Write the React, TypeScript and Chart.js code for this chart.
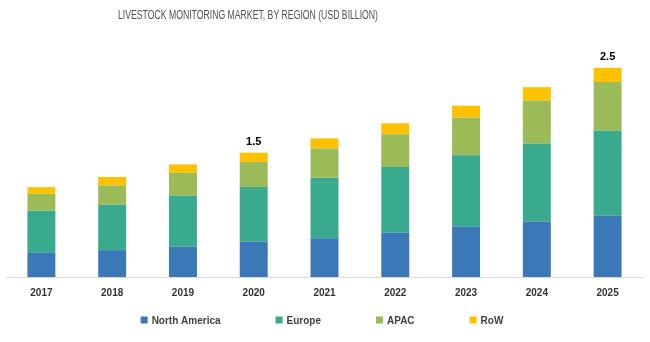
import React, { useEffect, useRef } from "react";
import { Chart, registerables } from "chart.js";

Chart.register(...registerables);

const chartTitle = "LIVESTOCK MONITORING MARKET, BY REGION (USD BILLION)";
const years = ["2017", "2018", "2019", "2020", "2021", "2022", "2023", "2024", "2025"];
const northAmerica = [0.29, 0.32, 0.36, 0.42, 0.46, 0.53, 0.6, 0.66, 0.73];
const europe = [0.5, 0.54, 0.61, 0.65, 0.72, 0.78, 0.85, 0.93, 1.01];
const apac = [0.2, 0.23, 0.27, 0.3, 0.35, 0.39, 0.45, 0.51, 0.58];
const row = [0.08, 0.1, 0.1, 0.11, 0.12, 0.13, 0.14, 0.16, 0.17];
const totalLabels = ["", "", "", "1.5", "", "", "", "", "2.5"];

const seriesNames = ["North America", "Europe", "APAC", "RoW"];
const seriesColors = ["#3B78B7", "#3AAA8F", "#9BBB59", "#FFC000"];

const titlePlugin = {
  id: "customTitle",
  afterDraw(chart: any) {
    const ctx = chart.ctx;
    ctx.save();
    ctx.font = '12px "Liberation Sans", Arial, sans-serif';
    ctx.fillStyle = "#505050";
    ctx.textAlign = "center";
    ctx.textBaseline = "middle";
    const w = ctx.measureText(chartTitle).width;
    const sx = Math.min(1, 260 / w);
    ctx.translate(248, 16);
    ctx.scale(sx, 1);
    ctx.fillText(chartTitle, 0, 0);
    ctx.restore();
  },
};

const totalsPlugin = {
  id: "totals",
  afterDatasetsDraw(chart: any) {
    const ctx = chart.ctx;
    const last = chart.getDatasetMeta(chart.data.datasets.length - 1);
    ctx.save();
    ctx.font = 'bold 11px "Liberation Sans", Arial, sans-serif';
    ctx.fillStyle = "#000000";
    ctx.textAlign = "center";
    ctx.textBaseline = "bottom";
    totalLabels.forEach((t, i) => {
      if (!t) return;
      const el = last.data[i];
      ctx.fillText(t, el.x, el.y - 5);
    });
    ctx.restore();
  },
};

const legendPlugin = {
  id: "customLegend",
  afterDraw(chart: any) {
    const ctx = chart.ctx;
    ctx.save();
    ctx.font = 'bold 10px "Liberation Sans", Arial, sans-serif';
    ctx.textBaseline = "middle";
    ctx.textAlign = "left";
    const box = 7;
    const gapText = 4;
    const gapItems = 55;
    const widths = chart.data.datasets.map((d: any) => box + gapText + ctx.measureText(d.label).width);
    const total = widths.reduce((a: number, b: number) => a + b, 0) + gapItems * (widths.length - 1);
    let x = 322 - total / 2;
    const y = 321;
    chart.data.datasets.forEach((d: any, i: number) => {
      ctx.fillStyle = d.backgroundColor;
      ctx.fillRect(x, y - box / 2 - 1, box, box);
      ctx.fillStyle = "#404040";
      ctx.fillText(d.label, x + box + gapText, y);
      x += widths[i] + gapItems;
    });
    ctx.restore();
  },
};

export default function App() {
  const ref = useRef<HTMLCanvasElement | null>(null);
  useEffect(() => {
    if (!ref.current) return;
    const values = [northAmerica, europe, apac, row];
    const chart = new Chart(ref.current, {
      type: "bar",
      data: {
        labels: years,
        datasets: seriesNames.map((name, i) => ({
          label: name,
          data: values[i],
          backgroundColor: seriesColors[i],
          borderWidth: 0,
          barPercentage: 0.5,
          categoryPercentage: 0.79,
        })),
      },
      options: {
        animation: false,
        responsive: true,
        maintainAspectRatio: false,
        layout: { padding: { top: 25, left: 6, right: 7, bottom: 33 } },
        plugins: {
          legend: { display: false },
          title: { display: false },
          tooltip: { enabled: false },
        },
        scales: {
          x: {
            stacked: true,
            grid: { display: false, drawTicks: false },
            border: { display: true, color: "#D9D9D9", width: 1 },
            ticks: {
              padding: 10,
              color: "#333333",
              font: { family: '"Liberation Sans", Arial, sans-serif', size: 10, weight: "bold" },
            },
          },
          y: {
            stacked: true,
            display: false,
            min: 0,
            max: 3,
          },
        },
      },
      plugins: [titlePlugin, totalsPlugin, legendPlugin],
    });
    return () => chart.destroy();
  }, []);
  return (
    <div style={{ position: "absolute", left: 0, top: 0, width: 650, height: 342, background: "#ffffff" }}>
      <canvas ref={ref} />
    </div>
  );
}
